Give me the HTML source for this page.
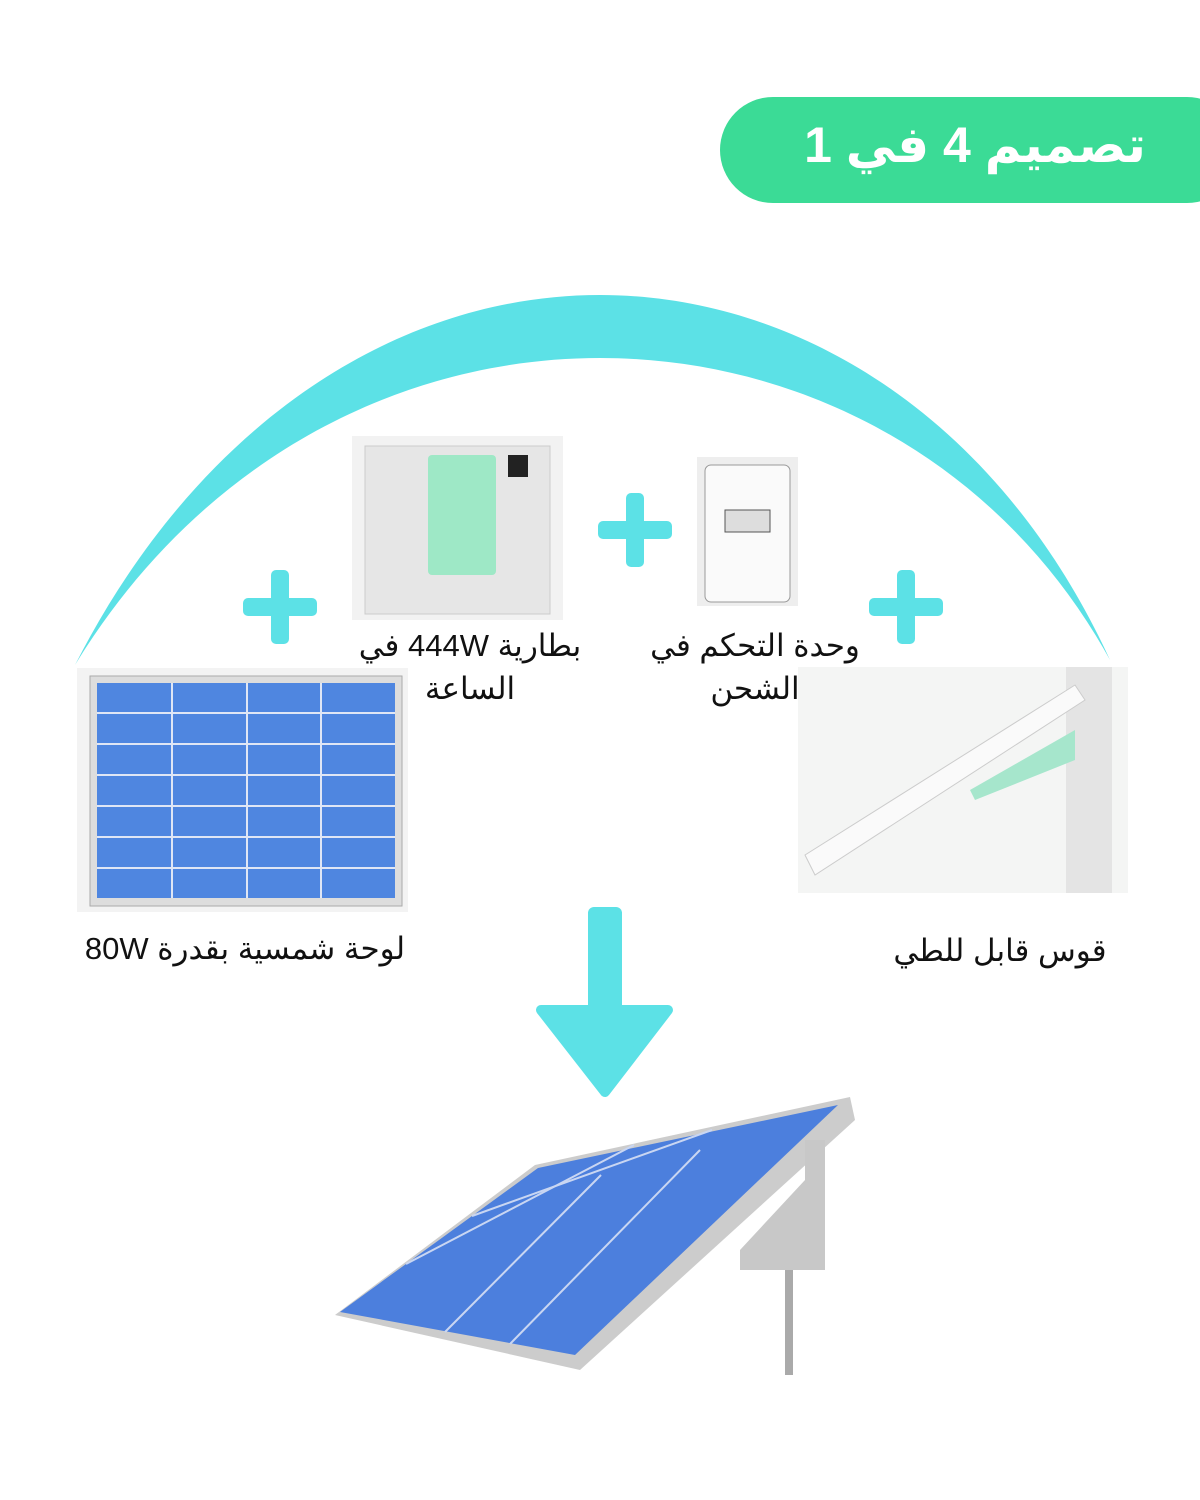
<!DOCTYPE html>
<html><head><meta charset="utf-8"><style>
body{margin:0;width:1200px;height:1500px;background:#fff;position:relative;overflow:hidden;font-family:"Liberation Sans","DejaVu Sans",sans-serif}
.abs{position:absolute}
.t{position:absolute;font-size:31px;color:#111;text-align:center;direction:rtl;line-height:43px}
</style></head><body>
<div class="abs" style="left:720px;top:97px;width:520px;height:106px;background:#3BDB96;border-radius:53px"></div>
<div class="abs" style="left:760px;top:105px;width:430px;height:80px;color:#fff;font-size:50px;font-weight:bold;text-align:center;line-height:80px;direction:rtl">تصميم 4 في 1</div>
<svg class="abs" style="left:0;top:0" width="1200" height="1500">
<path d="M75,665 C200,420 400,295 600,295 C800,295 1000,420 1110,660 C1000,460 800,358 600,358 C400,358 200,460 75,665 Z" fill="#5CE1E6"/>
<g fill="#5CE1E6">
<rect x="243" y="598" width="74" height="18" rx="5"/><rect x="271" y="570" width="18" height="74" rx="5"/>
<rect x="598" y="521" width="74" height="18" rx="5"/><rect x="626" y="493" width="18" height="74" rx="5"/>
<rect x="869" y="598" width="74" height="18" rx="5"/><rect x="897" y="570" width="18" height="74" rx="5"/>
<rect x="588" y="907" width="34" height="110" rx="6"/>
<path d="M541,1010 L668,1010 L605,1092 Z" stroke="#5CE1E6" stroke-width="10" stroke-linejoin="round"/>
</g>
<!-- battery -->
<rect x="352" y="436" width="211" height="184" fill="#f2f2f2"/>
<rect x="365" y="446" width="185" height="168" fill="#e6e6e6" stroke="#ccc"/>
<rect x="428" y="455" width="68" height="120" rx="4" fill="#9EE8C6"/>
<rect x="508" y="455" width="20" height="22" fill="#222"/>
<!-- controller -->
<rect x="697" y="457" width="101" height="149" fill="#eee"/>
<rect x="705" y="465" width="85" height="137" rx="6" fill="#fafafa" stroke="#999"/>
<rect x="725" y="510" width="45" height="22" fill="#ddd" stroke="#555"/>
<!-- left panel -->
<rect x="77" y="668" width="331" height="244" fill="#f3f3f3"/>
<rect x="90" y="676" width="312" height="230" fill="#ddd" stroke="#aaa"/>
<rect x="97" y="683" width="298" height="215" fill="#4F86E0"/>
<g stroke="#dfe6f5" stroke-width="2">
<line x1="172" y1="683" x2="172" y2="898"/><line x1="247" y1="683" x2="247" y2="898"/><line x1="321" y1="683" x2="321" y2="898"/>
<line x1="97" y1="713" x2="395" y2="713"/><line x1="97" y1="744" x2="395" y2="744"/><line x1="97" y1="775" x2="395" y2="775"/><line x1="97" y1="806" x2="395" y2="806"/><line x1="97" y1="837" x2="395" y2="837"/><line x1="97" y1="868" x2="395" y2="868"/>
</g>
<!-- bracket -->
<rect x="798" y="667" width="330" height="226" fill="#f4f5f4"/>
<rect x="1066" y="667" width="46" height="226" fill="#e4e4e4"/>
<path d="M805,855 L1075,685 L1085,700 L815,875 Z" fill="#fafafa" stroke="#ccc"/>
<path d="M970,790 L1075,730 L1075,760 L975,800 Z" fill="#A6E6CC"/>
<!-- bottom panel -->
<path d="M335,1315 L535,1165 L850,1097 L855,1120 L580,1370 Z" fill="#ccc"/>
<path d="M340,1312 L538,1168 L838,1105 L575,1355 Z" fill="#4C7FDD"/>
<g stroke="#c9d6f2" stroke-width="2">
<line x1="406" y1="1264" x2="634" y2="1145"/><line x1="472" y1="1216" x2="712" y2="1130"/>
<line x1="445" y1="1332" x2="601" y2="1175"/><line x1="510" y1="1344" x2="700" y2="1150"/>
</g>
<path d="M805,1140 L825,1140 L825,1270 L740,1270 L740,1250 L805,1180 Z" fill="#c8c8c8"/>
<rect x="785" y="1270" width="8" height="105" fill="#aaa"/>
</svg>
<div class="t" style="left:340px;top:624px;width:260px">بطارية 444W في<br>الساعة</div>
<div class="t" style="left:625px;top:624px;width:260px">وحدة التحكم في<br>الشحن</div>
<div class="t" style="left:60px;top:927px;width:370px">لوحة شمسية بقدرة 80W</div>
<div class="t" style="left:880px;top:929px;width:240px">قوس قابل للطي</div>
</body></html>
